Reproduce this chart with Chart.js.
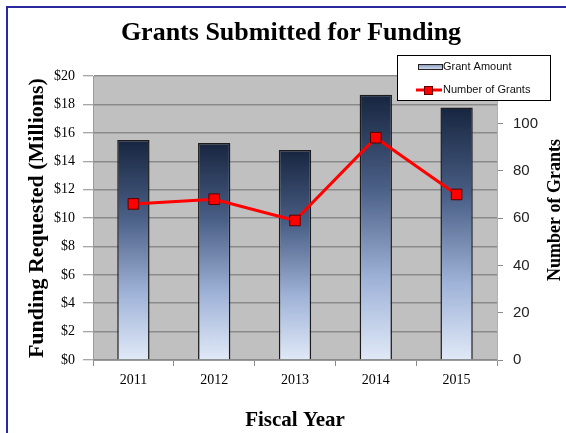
<!DOCTYPE html>
<html>
<head>
<meta charset="utf-8">
<script src="https://cdn.jsdelivr.net/npm/chart.js@4/dist/chart.umd.min.js"></script>
<style>
  html, body { margin: 0; padding: 0; background: #fff; }
</style>
</head>
<body>
<canvas id="grantsChart" width="566" height="433"></canvas>
<script>
    // data
    const years = ['2011', '2012', '2013', '2014', '2015'];
    const grantAmount = [15.5, 15.3, 14.8, 18.7, 17.8];   // $ millions
    const grantCount = [66, 68, 59, 94, 70];
    const amountTicks = [0, 2, 4, 6, 8, 10, 12, 14, 16, 18, 20];
    const countTicks = [0, 20, 40, 60, 80, 100, 120];

    const serif = '"Liberation Serif", "Times New Roman", serif';
    const sans = '"Liberation Sans", Arial, sans-serif';

    // bar fill: dark navy at the top of each bar fading to pale blue at its base
    function barGradient(context) {
        const chart = context.chart;
        if (!chart.chartArea || context.type !== 'data') return '#8fa0c2';
        const y = chart.scales.y;
        const top = y.getPixelForValue(context.raw);
        const base = y.getPixelForValue(0);
        const g = chart.ctx.createLinearGradient(0, top, 0, base);
        g.addColorStop(0, '#17253f');
        g.addColorStop(0.35, '#4a5f86');
        g.addColorStop(0.7, '#a0b3d8');
        g.addColorStop(1, '#e0e9f7');
        return g;
    }

    const framePlugin = {
        id: 'frame',
        beforeDraw(chart) {
            const {ctx, chartArea} = chart;
            ctx.save();
            ctx.fillStyle = '#ffffff';
            ctx.fillRect(0, 0, chart.width, chart.height);
            ctx.fillStyle = '#c0c0c0';
            ctx.fillRect(chartArea.left, chartArea.top, chartArea.right - chartArea.left, chartArea.bottom - chartArea.top);
            ctx.strokeStyle = '#2a2a9c';
            ctx.lineWidth = 2;
            ctx.beginPath();
            ctx.moveTo(7, chart.height);
            ctx.lineTo(7, 7);
            ctx.lineTo(chart.width, 7);
            ctx.stroke();
            ctx.restore();
        },
        afterDraw(chart) {
            const {ctx, chartArea} = chart;
            ctx.save();
            // right axis title, reading bottom to top like the left one
            ctx.translate(555, (chartArea.top + chartArea.bottom) / 2 - 8);
            ctx.rotate(-Math.PI / 2);
            ctx.font = 'bold 18px ' + serif;
            ctx.fillStyle = '#000';
            ctx.textAlign = 'center';
            ctx.textBaseline = 'middle';
            ctx.fillText(chart.options.scales.y1.titleText, 0, 0);
            ctx.restore();

            // legend box inside the top right of the plot
            const ds = chart.data.datasets;
            ctx.save();
            ctx.fillStyle = '#ffffff';
            ctx.fillRect(397, 55, 154, 46);
            ctx.strokeStyle = '#000';
            ctx.lineWidth = 1;
            ctx.strokeRect(397.5, 55.5, 153, 45);

            const sw = ctx.createLinearGradient(0, 64, 0, 70);
            sw.addColorStop(0, '#8092b8');
            sw.addColorStop(1, '#dfe7f6');
            ctx.fillStyle = sw;
            ctx.fillRect(418, 64, 24, 5);
            ctx.strokeStyle = '#222';
            ctx.strokeRect(418.5, 64.5, 24, 5);

            ctx.strokeStyle = '#ff0000';
            ctx.lineWidth = 3;
            ctx.beginPath();
            ctx.moveTo(416, 90);
            ctx.lineTo(442, 90);
            ctx.stroke();
            ctx.fillStyle = '#ff0000';
            ctx.fillRect(424, 86, 9, 9);
            ctx.strokeStyle = '#600';
            ctx.lineWidth = 1;
            ctx.strokeRect(424.5, 86.5, 8, 8);

            ctx.font = '11px ' + sans;
            ctx.fillStyle = '#111';
            ctx.textBaseline = 'middle';
            ctx.fillText(ds[0].label, 443, 67);
            ctx.fillText(ds[1].label, 443, 90);
            ctx.restore();
        }
    };

    const ctx = document.getElementById('grantsChart').getContext('2d');
    const grantsChart = new Chart(ctx, {
        data: {
            labels: years,
            datasets: [{
                type: 'bar',
                label: 'Grant Amount',
                data: grantAmount,
                yAxisID: 'y',
                order: 1,
                backgroundColor: barGradient,
                borderColor: '#1c1c1c',
                borderWidth: 1.5,
                categoryPercentage: 1,
                barPercentage: 0.4
            }, {
                type: 'line',
                label: 'Number of Grants',
                data: grantCount,
                yAxisID: 'y1',
                order: 0,
                borderColor: '#ff0000',
                borderWidth: 3,
                pointStyle: 'rect',
                pointRadius: 7.5,
                pointBackgroundColor: '#ff0000',
                pointBorderColor: '#5a0000',
                pointBorderWidth: 1,
                tension: 0
            }]
        },
        options: {
            responsive: false,
            animation: false,
            devicePixelRatio: 1,
            layout: { padding: { left: 16, right: 0, top: 0, bottom: 0 } },
            plugins: {
                legend: { display: false },
                tooltip: { enabled: false },
                title: {
                    display: true,
                    text: 'Grants Submitted for Funding',
                    color: '#000',
                    font: { family: serif, size: 26, weight: 'bold', lineHeight: 1.2 },
                    padding: { top: 18, bottom: 27 }
                }
            },
            scales: {
                x: {
                    offset: true,
                    grid: { display: true, drawOnChartArea: false, offset: true, tickLength: 6, color: '#8a8a8a' },
                    border: { display: true, color: '#9a9a9a', width: 1 },
                    ticks: { color: '#000', font: { family: serif, size: 14 }, padding: 6 },
                    title: {
                        display: true,
                        text: 'Fiscal Year',
                        color: '#000',
                        font: { family: serif, size: 21, weight: 'bold', lineHeight: 1.2 },
                        padding: { top: 0, bottom: 0 }
                    },
                    afterFit(scale) { scale.height = 73; }
                },
                y: {
                    position: 'left',
                    min: amountTicks[0],
                    max: amountTicks[amountTicks.length - 1],
                    afterBuildTicks(scale) { scale.ticks = amountTicks.map(v => ({ value: v })); },
                    grid: { color: '#8a8a8a', lineWidth: 1.5, tickLength: 10, tickColor: '#8a8a8a', tickWidth: 1 },
                    border: { display: true, color: '#9a9a9a' },
                    ticks: {
                        color: '#000',
                        font: { family: serif, size: 14 },
                        padding: 8,
                        callback: v => '$' + v
                    },
                    title: {
                        display: true,
                        text: 'Funding Requested (Millions)',
                        color: '#000',
                        font: { family: serif, size: 22, weight: 'bold', lineHeight: 1.2 },
                        padding: { top: 8, bottom: 0 }
                    },
                    afterFit(scale) { scale.width = 77; }
                },
                y1: {
                    position: 'right',
                    min: countTicks[0],
                    max: countTicks[countTicks.length - 1],
                    titleText: 'Number of Grants',
                    afterBuildTicks(scale) { scale.ticks = countTicks.map(v => ({ value: v })); },
                    grid: { drawOnChartArea: false, tickLength: 6, tickColor: '#8a8a8a' },
                    border: { display: true, color: '#b0b0b0' },
                    ticks: { color: '#222', font: { family: sans, size: 15 }, padding: 10 },
                    afterFit(scale) { scale.width = 69; }
                }
            }
        },
        plugins: [framePlugin]
    });
</script>
</body>
</html>
